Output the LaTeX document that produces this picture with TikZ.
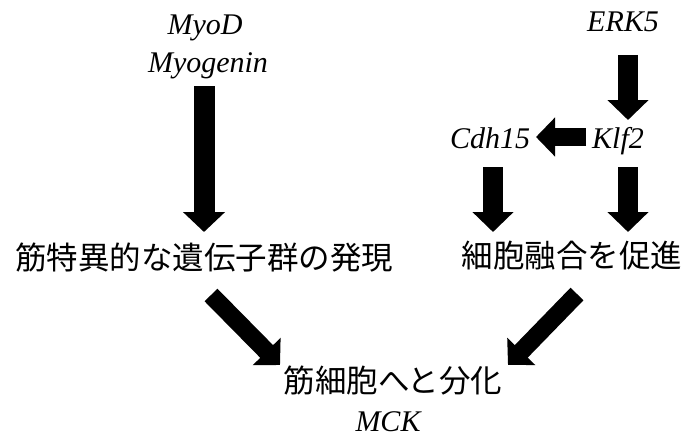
\documentclass[tikz,border=0pt]{standalone}
\usepackage{fontspec}
\setmainfont{Liberation Serif}
\newfontfamily\jpfont{Noto Sans CJK JP}
\usetikzlibrary{arrows.meta}
\begin{document}
\begin{tikzpicture}[x=1pt,y=-1pt,
  gene/.style={font=\fontsize{30}{33}\selectfont\itshape, anchor=base, inner sep=0pt},
  jptext/.style={font=\jpfont\fontsize{31.5}{36}\selectfont, inner sep=0pt, anchor=center},
  bigarrow/.style={draw=black, line width=20pt, -{Triangle[width=40pt,length=20pt]}},
  midarrow/.style={draw=black, line width=18pt, -{Triangle[width=38pt,length=19pt]}}]
\useasboundingbox[fill=white] (0,0) rectangle (685,436);
% texts
\node[gene] (myod) at (205,35) {MyoD};
\node[gene] (myog) at (208,73) {Myogenin};
\node[gene] (erk5) at (623,32) {ERK5};
\node[gene] (klf2) at (618,148) {Klf2};
\node[gene] (cdh15) at (490,148) {Cdh15};
\node[jptext] (expr) at (204,258) {筋特異的な遺伝子群の発現};
\node[jptext] (fuse) at (572,256) {細胞融合を促進};
\node[jptext] (diff) at (393,381) {筋細胞へと分化};
\node[gene] (mck) at (388,431) {MCK};
% arrow end points
\coordinate (a1s) at (204,86);  \coordinate (a1e) at (204,232);
\coordinate (a2s) at (628,55);  \coordinate (a2e) at (628,120);
\coordinate (a3s) at (586,137); \coordinate (a3e) at (536,137);
\coordinate (a4s) at (493,167); \coordinate (a4e) at (493,232);
\coordinate (a5s) at (628,167); \coordinate (a5e) at (628,232);
\coordinate (a6s) at (211,295); \coordinate (a6e) at (280,365);
\coordinate (a7s) at (577,294); \coordinate (a7e) at (508,365);
% arrows
\draw[bigarrow, line width=21pt, -{Triangle[width=41pt,length=20pt]}] (a1s) -- (a1e);
\draw[bigarrow] (a2s) -- (a2e);
\draw[midarrow] (a3s) -- (a3e);
\draw[bigarrow] (a4s) -- (a4e);
\draw[bigarrow] (a5s) -- (a5e);
\draw[midarrow] (a6s) -- (a6e);
\draw[midarrow] (a7s) -- (a7e);
\end{tikzpicture}
\end{document}
